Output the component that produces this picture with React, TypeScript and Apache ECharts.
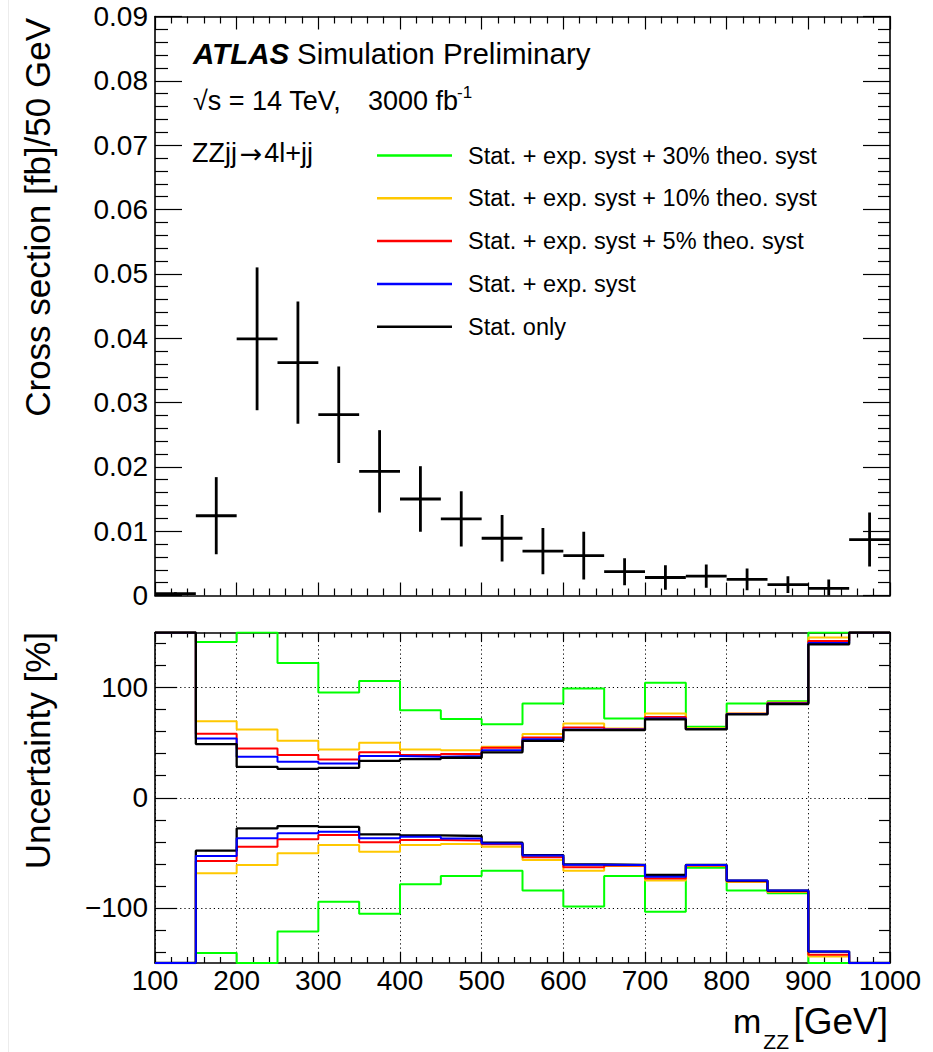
import React, { useEffect, useRef } from "react";
import * as echarts from "echarts";

const FONT = '"Liberation Sans", Arial, Helvetica, sans-serif';
const SYMBOL_FONT = '"DejaVu Sans", sans-serif';

// Bin edges of the m_ZZ distribution [GeV]
const BIN_EDGES = [100, 150, 200, 250, 300, 350, 400, 450, 500, 550, 600, 650, 700, 750, 800, 850, 900, 950, 1000];

// Cross section per 50 GeV bin [fb] with its error
const XSEC = [0.0003, 0.0124, 0.0399, 0.0362, 0.0281, 0.0193, 0.015, 0.0119, 0.0089, 0.0069, 0.0062, 0.0037, 0.0028, 0.003, 0.0025, 0.0017, 0.0011, 0.0087];
const XSEC_ERR = [0.0002, 0.006, 0.0111, 0.0095, 0.0075, 0.0064, 0.0051, 0.0043, 0.0036, 0.0036, 0.0037, 0.0021, 0.0019, 0.0018, 0.0017, 0.0013, 0.0014, 0.0042];

// Relative uncertainty per bin [%], upward variation
const THEO30_UP = [150, 141.4, 150, 122.4, 95.6, 106, 79.5, 71.4, 66.8, 85.6, 99.2, 72, 104.3, 64.4, 85.6, 87.7, 150, 150];
const THEO10_UP = [150, 69.5, 62, 51.7, 43.9, 49.9, 43.9, 43.2, 46.2, 57.8, 67.5, 62.9, 76.5, 63, 76.5, 86.5, 145.4, 150];
const THEO5_UP = [150, 58, 44.8, 38.7, 34.8, 41.2, 38.7, 39.6, 45.3, 54.8, 63.8, 62.2, 73.4, 62.5, 76.3, 86, 142.3, 150];
const EXP_UP = [150, 53.8, 37.2, 32.6, 31.2, 37.8, 37.2, 37.8, 43.2, 53.2, 62, 62, 72, 62.5, 76, 85.5, 140.5, 150];
const STAT_UP = [150, 48.7, 28.1, 26.3, 27.2, 33.5, 35.1, 36.3, 41.2, 51.7, 61.4, 61.4, 71.1, 62, 75.6, 85, 139.3, 150];

// Relative uncertainty per bin [%], downward variation
const THEO30_DN = [-150, -141, -150, -121.5, -94.3, -105.4, -78.5, -71, -66.2, -84.3, -98.8, -71, -103.4, -63.5, -84.3, -86.7, -150, -150];
const THEO10_DN = [-150, -68.6, -61, -50.4, -42.9, -49, -42.9, -42, -44.4, -56.5, -66.2, -62, -75.2, -62, -76.5, -85.5, -144.2, -150];
const THEO5_DN = [-150, -57.4, -44.4, -37.7, -33.8, -40.4, -38.3, -38.8, -42.3, -54, -63.1, -61.5, -73.4, -61.5, -75.8, -84.8, -142.6, -150];
const EXP_DN = [-150, -52.9, -36.8, -32.3, -30.8, -36.8, -35.5, -37, -41.5, -52.5, -60.8, -61, -71.6, -61, -75.2, -84.3, -139.6, -150];
const STAT_DN = [-150, -48, -27.8, -25.7, -26.5, -33.2, -34.1, -34.7, -40.8, -52, -60.4, -61, -70, -61, -75.2, -84.3, -139.6, -150];

// Tick values of the uncertainty axis
const UNC_MAJOR_TICKS = [-100, 0, 100];
const UNC_MINOR_TICKS = [-140, -120, -80, -60, -40, -20, 20, 40, 60, 80, 120, 140];

const NAMES = [
  "Stat. + exp. syst + 30% theo. syst",
  "Stat. + exp. syst + 10% theo. syst",
  "Stat. + exp. syst + 5% theo. syst",
  "Stat. + exp. syst",
  "Stat. only",
];
const COLORS = ["#00ff00", "#ffc800", "#ff0000", "#0000ff", "#000000"];

// Histogram outline: one point per lower bin edge plus the last upper edge
const steps = (vals: number[]) => [
  ...vals.map((v, i) => [BIN_EDGES[i], v]),
  [BIN_EDGES[vals.length], vals[vals.length - 1]],
];

const axisLine = { show: true, onZero: false, lineStyle: { color: "#000", width: 1.6 } };
const tick = (length: number, extra: object = {}) => ({
  show: true,
  inside: true,
  length,
  lineStyle: { color: "#000", width: 1.2 },
  ...extra,
});
const minor = (length: number) => ({
  show: true,
  splitNumber: 5,
  length,
  lineStyle: { color: "#000", width: 1.2 },
});
const label = { color: "#000", fontSize: 28, fontFamily: FONT };
const dotted = { show: true, lineStyle: { color: "#000", width: 1, type: [1.2, 3] } };

function buildOption() {
  const xsecData = XSEC.map((v, i) => [
    (BIN_EDGES[i] + BIN_EDGES[i + 1]) / 2,
    v,
    XSEC_ERR[i],
    BIN_EDGES[i],
    BIN_EDGES[i + 1],
  ]);

  const ups = [THEO30_UP, THEO10_UP, THEO5_UP, EXP_UP, STAT_UP];
  const dns = [THEO30_DN, THEO10_DN, THEO5_DN, EXP_DN, STAT_DN];
  const dnOrder = [0, 1, 2, 4, 3];

  const stepSeries = (vals: number[], k: number, z: number) => ({
    type: "line",
    name: NAMES[k],
    xAxisIndex: 2,
    yAxisIndex: 2,
    step: "end",
    symbol: "none",
    clip: true,
    z,
    color: COLORS[k],
    itemStyle: { color: COLORS[k] },
    lineStyle: { color: COLORS[k], width: k === 4 ? 2.3 : 2 },
    data: steps(vals),
  });

  const text = (x: number, y: number, str: string, font: string, extra: object = {}) => ({
    type: "text",
    x,
    y,
    silent: true,
    style: {
      text: str,
      font,
      fill: "#000",
      align: "left",
      textAlign: "left",
      verticalAlign: "middle",
      textVerticalAlign: "middle",
      ...extra,
    },
  });
  const right = { align: "right", textAlign: "right" };
  const center = { align: "center", textAlign: "center" };

  return {
    animation: false,
    backgroundColor: "#fff",
    textStyle: { fontFamily: FONT },
    grid: [
      { left: 155, top: 16.5, width: 735, height: 579 },
      { left: 155, top: 632.5, width: 735, height: 330.5 },
      { left: 155, top: 632.5, width: 735, height: 330.5 },
    ],
    xAxis: [
      {
        gridIndex: 0, type: "value", position: "bottom", min: 100, max: 1000, interval: 100,
        axisLine, axisTick: tick(13), minorTick: minor(7), axisLabel: { show: false }, splitLine: { show: false },
      },
      {
        gridIndex: 0, type: "value", position: "top", min: 100, max: 1000, interval: 100,
        axisLine, axisTick: tick(13), minorTick: minor(7), axisLabel: { show: false }, splitLine: { show: false },
      },
      {
        gridIndex: 1, type: "value", position: "bottom", min: 100, max: 1000, interval: 100,
        axisLine, axisTick: tick(11), minorTick: minor(6),
        axisLabel: { ...label, margin: 3, formatter: (v: number) => String(v) },
        splitLine: dotted,
      },
      {
        gridIndex: 1, type: "value", position: "top", min: 100, max: 1000, interval: 100,
        axisLine, axisTick: tick(9), minorTick: minor(5), axisLabel: { show: false }, splitLine: { show: false },
      },
      { gridIndex: 2, type: "value", min: 100, max: 1000, show: false },
    ],
    yAxis: [
      {
        gridIndex: 0, type: "value", position: "left", min: 0, max: 0.09, interval: 0.01,
        axisLine, axisTick: tick(27), minorTick: minor(13),
        axisLabel: {
          ...label,
          margin: 7,
          padding: [5, 0, 0, 0],
          formatter: (v: number) => (v === 0 ? "0" : v.toFixed(2)),
        },
        splitLine: { show: false },
      },
      {
        gridIndex: 0, type: "value", position: "right", min: 0, max: 0.09, interval: 0.01,
        axisLine, axisTick: tick(27), minorTick: minor(12), axisLabel: { show: false }, splitLine: { show: false },
      },
      {
        gridIndex: 1, type: "value", position: "left", min: -150, max: 150,
        axisLine,
        axisTick: tick(22, { customValues: UNC_MAJOR_TICKS }),
        axisLabel: {
          ...label,
          margin: 7,
          padding: [5, 0, 0, 0],
          customValues: UNC_MAJOR_TICKS,
          formatter: (v: number) => (v < 0 ? "\u2212" + Math.abs(v) : String(v)),
        },
        splitLine: dotted,
      },
      {
        gridIndex: 1, type: "value", position: "right", min: -150, max: 150,
        axisLine,
        axisTick: tick(22, { customValues: UNC_MAJOR_TICKS }),
        axisLabel: { show: false }, splitLine: { show: false },
      },
      {
        gridIndex: 2, type: "value", position: "left", min: -150, max: 150,
        axisLine: { show: false, onZero: false },
        axisTick: tick(11, { customValues: UNC_MINOR_TICKS }),
        axisLabel: { show: false }, splitLine: { show: false },
      },
      {
        gridIndex: 2, type: "value", position: "right", min: -150, max: 150,
        axisLine: { show: false, onZero: false },
        axisTick: tick(11, { customValues: UNC_MINOR_TICKS }),
        axisLabel: { show: false }, splitLine: { show: false },
      },
    ],
    legend: {
      data: NAMES,
      orient: "vertical",
      left: 377,
      top: 143.5,
      padding: 0,
      itemWidth: 75,
      itemHeight: 2.5,
      itemGap: 18.8,
      icon: "rect",
      selectedMode: false,
      formatter: "{t|{name}}",
      textStyle: {
        rich: { t: { fontSize: 23.5, fontFamily: FONT, color: "#000", padding: [0, 0, 0, 11] } },
      },
    },
    series: [
      {
        type: "custom",
        name: "xsec",
        xAxisIndex: 0,
        yAxisIndex: 0,
        clip: true,
        z: 5,
        encode: { x: 0, y: 1 },
        data: xsecData,
        renderItem: (_params: any, api: any) => {
          const xc = api.value(0);
          const y = api.value(1);
          const e = api.value(2);
          const a = api.coord([api.value(3), y]);
          const b = api.coord([api.value(4), y]);
          const t = api.coord([xc, y + e]);
          const d = api.coord([xc, y - e]);
          const style = { stroke: "#000", lineWidth: 2.8 };
          return {
            type: "group",
            children: [
              { type: "line", shape: { x1: a[0], y1: a[1], x2: b[0], y2: b[1] }, style },
              { type: "line", shape: { x1: t[0], y1: t[1], x2: d[0], y2: d[1] }, style },
            ],
          };
        },
      },
      ...ups.map((vals, k) => stepSeries(vals, k, 2 + k * 0.01)),
      ...dnOrder.map((k, j) => stepSeries(dns[k], k, 2 + j * 0.01)),
    ],
    graphic: [
      { type: "line", silent: true, shape: { x1: 8.5, y1: 0, x2: 8.5, y2: 1052 }, style: { stroke: "#ececec", lineWidth: 1 } },
      text(193, 53, "ATLAS", `italic bold 29.5px ${FONT}`),
      text(297, 53, "Simulation Preliminary", `29.5px ${FONT}`),
      text(193, 101, "\u221as = 14 TeV,", `27px ${FONT}`),
      text(368, 101, "3000 fb", `27px ${FONT}`),
      text(457, 92, "-1", `17px ${FONT}`),
      text(192, 153, "ZZjj", `27px ${FONT}`),
      text(251, 153, "\u2192", `27px ${SYMBOL_FONT}`, center),
      text(313, 153, "4l+jj", `27px ${FONT}`, right),
      {
        ...text(37.5, 18, "Cross section [fb]/50 GeV", `35px ${FONT}`, right),
        rotation: Math.PI / 2,
      },
      {
        ...text(37.5, 632, "Uncertainty [%]", `35px ${FONT}`, right),
        rotation: Math.PI / 2,
      },
      text(733, 1021, "m", `34px ${FONT}`),
      text(789, 1041, "ZZ", `21px ${FONT}`, right),
      text(888, 1021, "[GeV]", `37px ${FONT}`, right),
    ],
  };
}

export default function App() {
  const ref = useRef<HTMLDivElement>(null);
  useEffect(() => {
    document.body.style.margin = "0";
    const chart = echarts.init(ref.current!, null, { renderer: "svg" });
    chart.setOption(buildOption() as any);
    return () => chart.dispose();
  }, []);
  return <div ref={ref} style={{ width: 933, height: 1052, background: "#fff" }} />;
}
